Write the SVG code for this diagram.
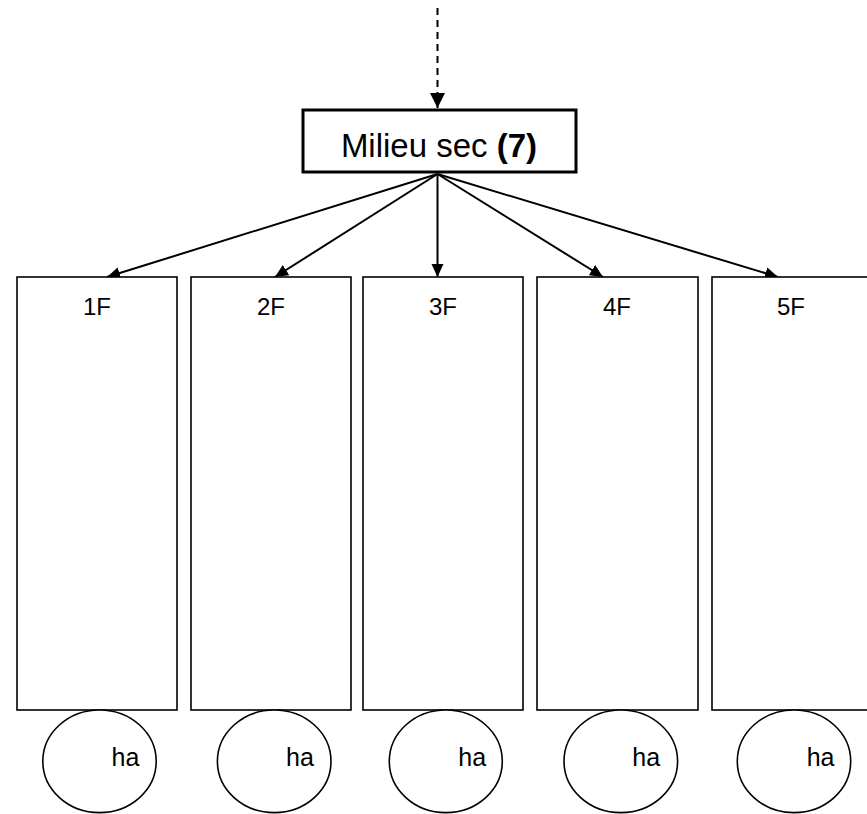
<svg xmlns="http://www.w3.org/2000/svg" width="867" height="814" viewBox="0 0 867 814">
<style>
  .txt { font-family: "Liberation Sans", Arial, sans-serif; fill: #000; }
  .box { fill: #fff; stroke: #000; stroke-width: 1.6; }
  .ell { fill: #fff; stroke: #000; stroke-width: 1.6; }
  .conn { stroke: #000; stroke-width: 2; fill: none; }
</style>
<defs>
  <marker id="ah" markerUnits="userSpaceOnUse" markerWidth="14" markerHeight="14" viewBox="0 0 14 14" refX="13" refY="7" orient="auto">
    <path d="M0,1 L13,7 L0,13 z" fill="#000"/>
  </marker>
  <marker id="ahd" markerUnits="userSpaceOnUse" markerWidth="16" markerHeight="16" viewBox="0 0 16 16" refX="15" refY="8" orient="auto">
    <path d="M0,0.5 L15,8 L0,15.5 z" fill="#000"/>
  </marker>
</defs>
<rect width="867" height="814" fill="#fff"/>

<g id="connectors">
  <line class="conn" x1="437.5" y1="8" x2="437.5" y2="108" stroke-dasharray="7,5" marker-end="url(#ahd)"/>
  <line class="conn" x1="437.5" y1="174" x2="107" y2="277" marker-end="url(#ah)"/>
  <line class="conn" x1="437.5" y1="174" x2="275" y2="277" marker-end="url(#ah)"/>
  <line class="conn" x1="437.5" y1="174" x2="437.5" y2="277" marker-end="url(#ah)"/>
  <line class="conn" x1="437.5" y1="174" x2="603" y2="277" marker-end="url(#ah)"/>
  <line class="conn" x1="437.5" y1="174" x2="778" y2="277" marker-end="url(#ah)"/>
</g>

<g id="milieu">
  <rect x="303" y="110" width="273" height="62" fill="#fff" stroke="#000" stroke-width="3"/>
  <text class="txt" x="439" y="157" font-size="33" text-anchor="middle">Milieu sec <tspan font-weight="bold">(7)</tspan></text>
</g>

<g id="f1">
  <rect class="box" x="17" y="277" width="160" height="433"/>
  <text class="txt" x="97" y="315" font-size="24" text-anchor="middle">1F</text>
</g>
<g id="f2">
  <rect class="box" x="191" y="277" width="160" height="433"/>
  <text class="txt" x="271" y="315" font-size="24" text-anchor="middle">2F</text>
</g>
<g id="f3">
  <rect class="box" x="363" y="277" width="160" height="433"/>
  <text class="txt" x="443" y="315" font-size="24" text-anchor="middle">3F</text>
</g>
<g id="f4">
  <rect class="box" x="537" y="277" width="161" height="433"/>
  <text class="txt" x="617" y="315" font-size="24" text-anchor="middle">4F</text>
</g>
<g id="f5">
  <rect class="box" x="712" y="277" width="170" height="433"/>
  <text class="txt" x="791" y="315" font-size="24" text-anchor="middle">5F</text>
</g>

<g id="ha1">
  <ellipse class="ell" cx="99.5" cy="761.3" rx="56.7" ry="51.3"/>
  <text class="txt" x="111.5" y="766" font-size="25">ha</text>
</g>
<g id="ha2">
  <ellipse class="ell" cx="274.2" cy="761.3" rx="56.8" ry="51.3"/>
  <text class="txt" x="286" y="766" font-size="25">ha</text>
</g>
<g id="ha3">
  <ellipse class="ell" cx="445.8" cy="761.3" rx="56.5" ry="51.3"/>
  <text class="txt" x="458.3" y="766" font-size="25">ha</text>
</g>
<g id="ha4">
  <ellipse class="ell" cx="620.8" cy="761.3" rx="56.8" ry="51.3"/>
  <text class="txt" x="632.3" y="766" font-size="25">ha</text>
</g>
<g id="ha5">
  <ellipse class="ell" cx="794" cy="761.3" rx="56.7" ry="51.3"/>
  <text class="txt" x="806.7" y="766" font-size="25">ha</text>
</g>
</svg>
